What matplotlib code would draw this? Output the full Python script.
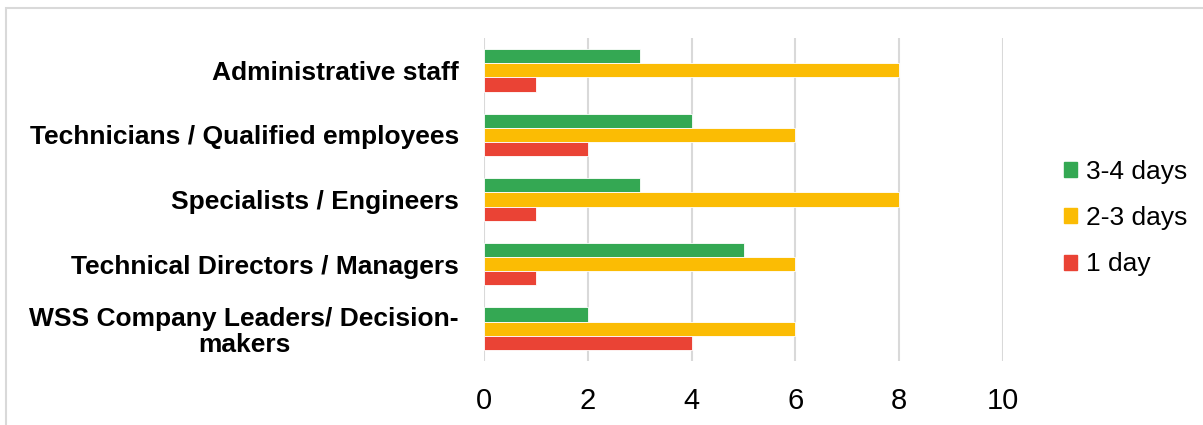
import numpy as np
import matplotlib.pyplot as plt
from matplotlib.patches import Rectangle, Patch

plt.rcParams['font.family'] = ['Liberation Sans', 'DejaVu Sans']

categories = [
    "Administrative staff",
    "Technicians / Qualified employees",
    "Specialists / Engineers",
    "Technical Directors / Managers",
    "WSS Company Leaders/ Decision-\nmakers",
]
days_3_4 = [3, 4, 3, 5, 2]
days_2_3 = [8, 6, 8, 6, 6]
days_1 = [1, 2, 1, 1, 4]

series = [("3-4 days", days_3_4, "#34A853"),
          ("2-3 days", days_2_3, "#FBBC04"),
          ("1 day", days_1, "#EA4335")]

fig = plt.figure(figsize=(12.03, 4.25), dpi=100)
ax = fig.add_axes([0.4023, 0.1506, 0.4315, 0.76])

# outer frame of the chart area
fig.patches.append(Rectangle((6 / 1203, -0.1), 1.2, 1 - 8 / 425 + 0.1,
                             transform=fig.transFigure, fill=False,
                             edgecolor="#d9d9d9", linewidth=1.5))

y = np.arange(len(categories))
h = 0.22
for k, (name, vals, color) in enumerate(series):
    ax.barh(y + (k - 1) * h, vals, height=h, color=color,
            edgecolor="white", linewidth=0.6, label=name, zorder=3)

ax.set_xlim(0, 10)
ax.set_ylim(4.5, -0.5)
ax.set_xticks([0, 2, 4, 6, 8, 10])
ax.set_yticks(y)
ax.set_yticklabels(categories, fontsize=19, fontweight="bold",
                   multialignment="center", linespacing=1.1)
ax.tick_params(axis="x", labelsize=21, length=0, pad=19)
ax.tick_params(axis="y", length=0, pad=18)
ax.grid(axis="x", color="#d9d9d9", linewidth=1.5, zorder=0)
for s in ax.spines.values():
    s.set_visible(False)

handles = [Patch(color=c, label=n) for n, _, c in series]
fig.legend(handles=handles, loc="center left",
           bbox_to_anchor=(1040 / 1203, 1 - 218 / 425),
           frameon=False, fontsize=19, handlelength=0.5, handleheight=0.5,
           handletextpad=0.35, labelspacing=0.85)

fig.savefig("out.png", dpi=100)
